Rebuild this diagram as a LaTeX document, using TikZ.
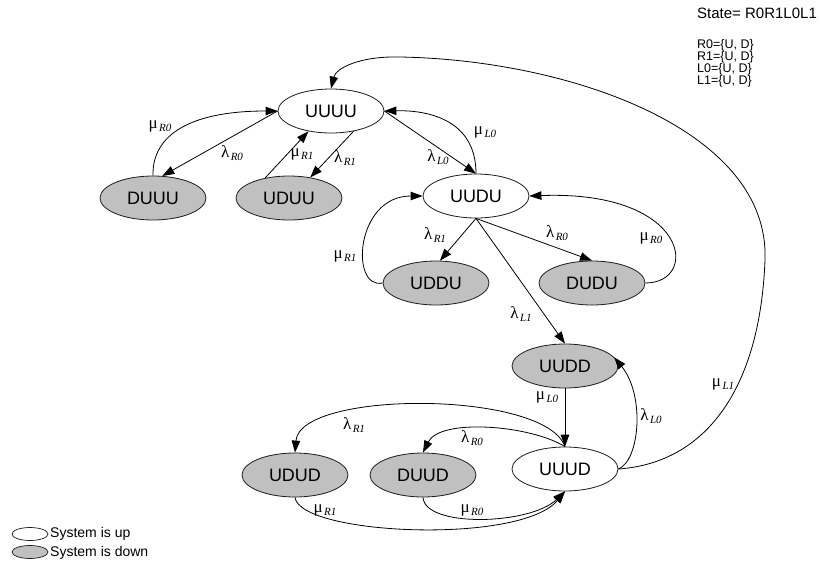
\documentclass[tikz,border=0pt]{standalone}
\usepackage{fontspec}
\setmainfont{Liberation Sans}
\newfontfamily\serifgr{Liberation Serif}
\usetikzlibrary{arrows.meta,shapes.geometric}
\definecolor{downgray}{RGB}{192,192,192}
\definecolor{edgegray}{RGB}{30,30,30}
\newcommand{\glab}[2]{{\serifgr\fontsize{17}{17}\selectfont #1}\kern1.5pt\raisebox{-3.5pt}{\serifgr\itshape\fontsize{11}{11}\selectfont #2}}
\begin{document}
\begin{tikzpicture}[x=1pt,y=-1pt,
  st/.style={ellipse, draw=edgegray, line width=0.8pt, minimum width=106pt, minimum height=44pt, inner sep=0pt, font=\fontsize{18}{18}\selectfont},
  upst/.style={st, fill=white},
  downst/.style={st, fill=downgray},
  arr/.style={-{Triangle[length=12pt,width=8.5pt]}, line width=0.8pt, draw=black},
  lab/.style={inner sep=0pt},
  txt/.style={inner sep=0pt, anchor=base west, font=\fontsize{14}{14}\selectfont},
  small/.style={inner sep=0pt, anchor=base west, font=\fontsize{12.5}{12.5}\selectfont},
  leg/.style={ellipse, draw=edgegray, line width=0.7pt, minimum width=36pt, minimum height=13pt, inner sep=0pt}
]
\useasboundingbox (0,0) rectangle (820,570);

% states
\node[upst]   (UUUU) at (331,111) {UUUU};
\node[downst] (DUUU) at (153,198) {DUUU};
\node[downst] (UDUU) at (289,198) {UDUU};
\node[upst]   (UUDU) at (476,196) {UUDU};
\node[downst] (UDDU) at (436,283) {UDDU};
\node[downst] (DUDU) at (592,283) {DUDU};
\node[downst] (UUDD) at (565,366) {UUDD};
\node[upst]   (UUUD) at (565,469) {UUUD};
\node[downst] (UDUD) at (295,475) {UDUD};
\node[downst] (DUUD) at (423,475) {DUUD};

% top-left group
\draw[arr] (DUUU.north) .. controls (152,135) and (190,111) .. (UUUU.west);
\draw[arr] (UUUU.west) -- (DUUU.67);
\draw[arr] (UDUU.140) -- (UUUU.222);
\draw[arr] (UUUU.318) -- (UDUU.44);
\draw[arr] (UUUU.east) -- (UUDU.north);
\draw[arr] (UUDU.north) .. controls (476,122) and (432,110) .. (UUUU.east);

% big return arc
\draw[arr] (UUUD.east) .. controls (705,463) and (760,390) .. (765,260)
  .. controls (770,130) and (570,60) .. (400,57)
  .. controls (360,56) and (336,68) .. (UUUU.north);

% UUDU group
\draw[arr] (UUDU.south) -- (UDDU.80);
\draw[arr] (UUDU.south) -- (DUDU.north);
\draw[arr] (UUDU.south) -- (UUDD.north);
\draw[arr] (UDDU.west) .. controls (350,290) and (355,196) .. (UUDU.west);
\draw[arr] (DUDU.east) .. controls (700,283) and (690,190) .. (UUDU.east);

% UUDD / UUUD
\draw[arr] (UUDD.south) -- (UUUD.north);
\draw[arr] (UUUD.east) .. controls (640,460) and (645,395) .. (UUDD.10);

% bottom group
\draw[arr] (UUUD.north) .. controls (545,390) and (300,390) .. (UDUD.north);
\draw[arr] (UUUD.north) .. controls (530,425) and (440,418) .. (DUUD.north);
\draw[arr] (UDUD.south) .. controls (300,535) and (520,545) .. (UUUD.south);
\draw[arr] (DUUD.south) .. controls (425,528) and (530,525) .. (UUUD.south);

% labels
\node[lab] (l1)  at (160,126) {\glab{μ}{R0}};
\node[lab] (l2)  at (232,153) {\glab{λ}{R0}};
\node[lab] (l3)  at (302,154) {\glab{μ}{R1}};
\node[lab] (l4)  at (345,158) {\glab{λ}{R1}};
\node[lab] (l5)  at (438,157) {\glab{λ}{L0}};
\node[lab] (l6)  at (485,132) {\glab{μ}{L0}};
\node[lab] (l7)  at (345,256) {\glab{μ}{R1}};
\node[lab] (l8)  at (435,235) {\glab{λ}{R1}};
\node[lab] (l9)  at (557,233) {\glab{λ}{R0}};
\node[lab] (l10) at (651,238) {\glab{μ}{R0}};
\node[lab] (l11) at (521,314) {\glab{λ}{L1}};
\node[lab] (l12) at (547,397) {\glab{μ}{L0}};
\node[lab] (l13) at (651,416) {\glab{λ}{L0}};
\node[lab] (l14) at (723,384) {\glab{μ}{L1}};
\node[lab] (l15) at (354,425) {\glab{λ}{R1}};
\node[lab] (l16) at (472,438) {\glab{λ}{R0}};
\node[lab] (l17) at (325,510) {\glab{μ}{R1}};
\node[lab] (l18) at (472,510) {\glab{μ}{R0}};

% info text
\node[txt, font=\fontsize{15}{15}\selectfont] (t0) at (697,18) {State= R0R1L0L1};
\node[small] (t1) at (697,48) {R0=\{U, D\}};
\node[small] (t2) at (697,60) {R1=\{U, D\}};
\node[small] (t3) at (697,72) {L0=\{U, D\}};
\node[small] (t4) at (697,84) {L1=\{U, D\}};

% legend
\node[leg, fill=white]    (g1) at (30,534) {};
\node[leg, fill=downgray] (g2) at (30,552) {};
\node[txt, anchor=west] (g1t) at (50,534) {System is up};
\node[txt, anchor=west] (g2t) at (50,553) {System is down};
\end{tikzpicture}
\end{document}
